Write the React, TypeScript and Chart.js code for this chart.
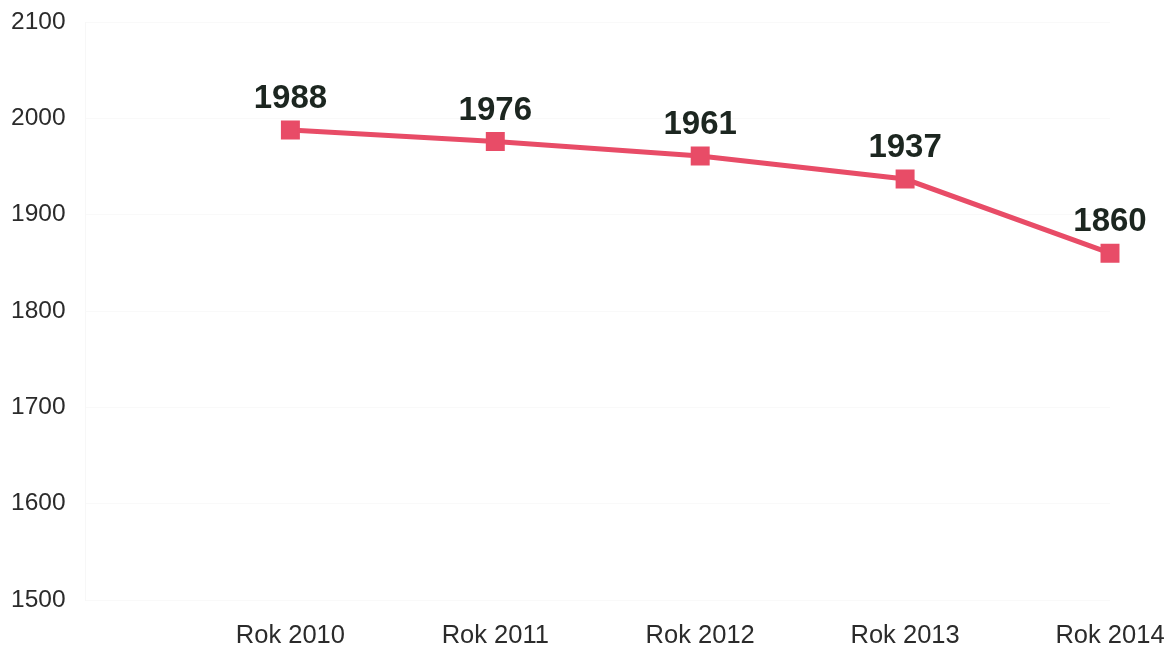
import React, { useEffect, useRef } from "react";
import { Chart, registerables } from "chart.js";

Chart.register(...registerables);

const categories: string[] = ["", "Rok 2010", "Rok 2011", "Rok 2012", "Rok 2013", "Rok 2014"];
const values: (number | null)[] = [null, 1988, 1976, 1961, 1937, 1860];
const yMin = 1500;
const yMax = 2100;
const yStep = 100;

const FONT = "'Liberation Sans', Arial, sans-serif";
const LINE_COLOR = "#e84c67";

const valueLabels = {
  id: "valueLabels",
  afterDatasetsDraw(chart: any) {
    const ctx = chart.ctx;
    const meta = chart.getDatasetMeta(0);
    ctx.save();
    ctx.font = `bold 33px ${FONT}`;
    ctx.fillStyle = "#1c2620";
    ctx.textAlign = "center";
    ctx.textBaseline = "middle";
    meta.data.forEach((pt: any, i: number) => {
      const v = values[i];
      if (v == null) return;
      ctx.fillText(String(v), pt.x, pt.y - 31);
    });
    ctx.restore();
  },
};

export default function App() {
  const ref = useRef<HTMLCanvasElement | null>(null);
  useEffect(() => {
    if (!ref.current) return;
    const chart = new Chart(ref.current, {
      type: "line",
      data: {
        labels: categories,
        datasets: [
          {
            data: values,
            borderColor: LINE_COLOR,
            backgroundColor: LINE_COLOR,
            borderWidth: 5,
            pointStyle: "rect",
            pointRadius: 12,
            pointBorderWidth: 2,
            pointBorderColor: LINE_COLOR,
            pointBackgroundColor: LINE_COLOR,
            tension: 0,
            spanGaps: false,
          },
        ],
      },
      options: {
        animation: false,
        responsive: false,
        layout: { autoPadding: false, padding: { top: 22, right: 61, left: 11, bottom: 0 } },
        plugins: { legend: { display: false }, tooltip: { enabled: false } },
        scales: {
          x: {
            offset: false,
            grid: {
              display: true,
              drawOnChartArea: false,
              drawTicks: true,
              tickLength: 24,
              tickColor: "rgba(0,0,0,0)",
            },
            border: { display: false },
            ticks: {
              font: { family: FONT, size: 25.5, lineHeight: 0.9 },
              color: "#2b2b2b",
              padding: 0,
              maxRotation: 0,
              autoSkip: false,
            },
          },
          y: {
            min: yMin,
            max: yMax,
            ticks: {
              stepSize: yStep,
              font: { family: FONT, size: 24.5 },
              color: "#2b2b2b",
              padding: 0,
              callback: (v: any) => String(v),
            },
            grid: {
              color: "rgba(0,0,0,0.025)",
              drawTicks: true,
              tickLength: 20,
              tickColor: "rgba(0,0,0,0)",
            },
            border: { display: true, color: "rgba(0,0,0,0.03)" },
          },
        },
      },
      plugins: [valueLabels],
    });
    return () => chart.destroy();
  }, []);
  return (
    <div style={{ position: "fixed", left: 0, top: 0, width: 1171, height: 647, background: "#fff" }}>
      <canvas ref={ref} width={1171} height={647} style={{ display: "block" }} />
    </div>
  );
}
